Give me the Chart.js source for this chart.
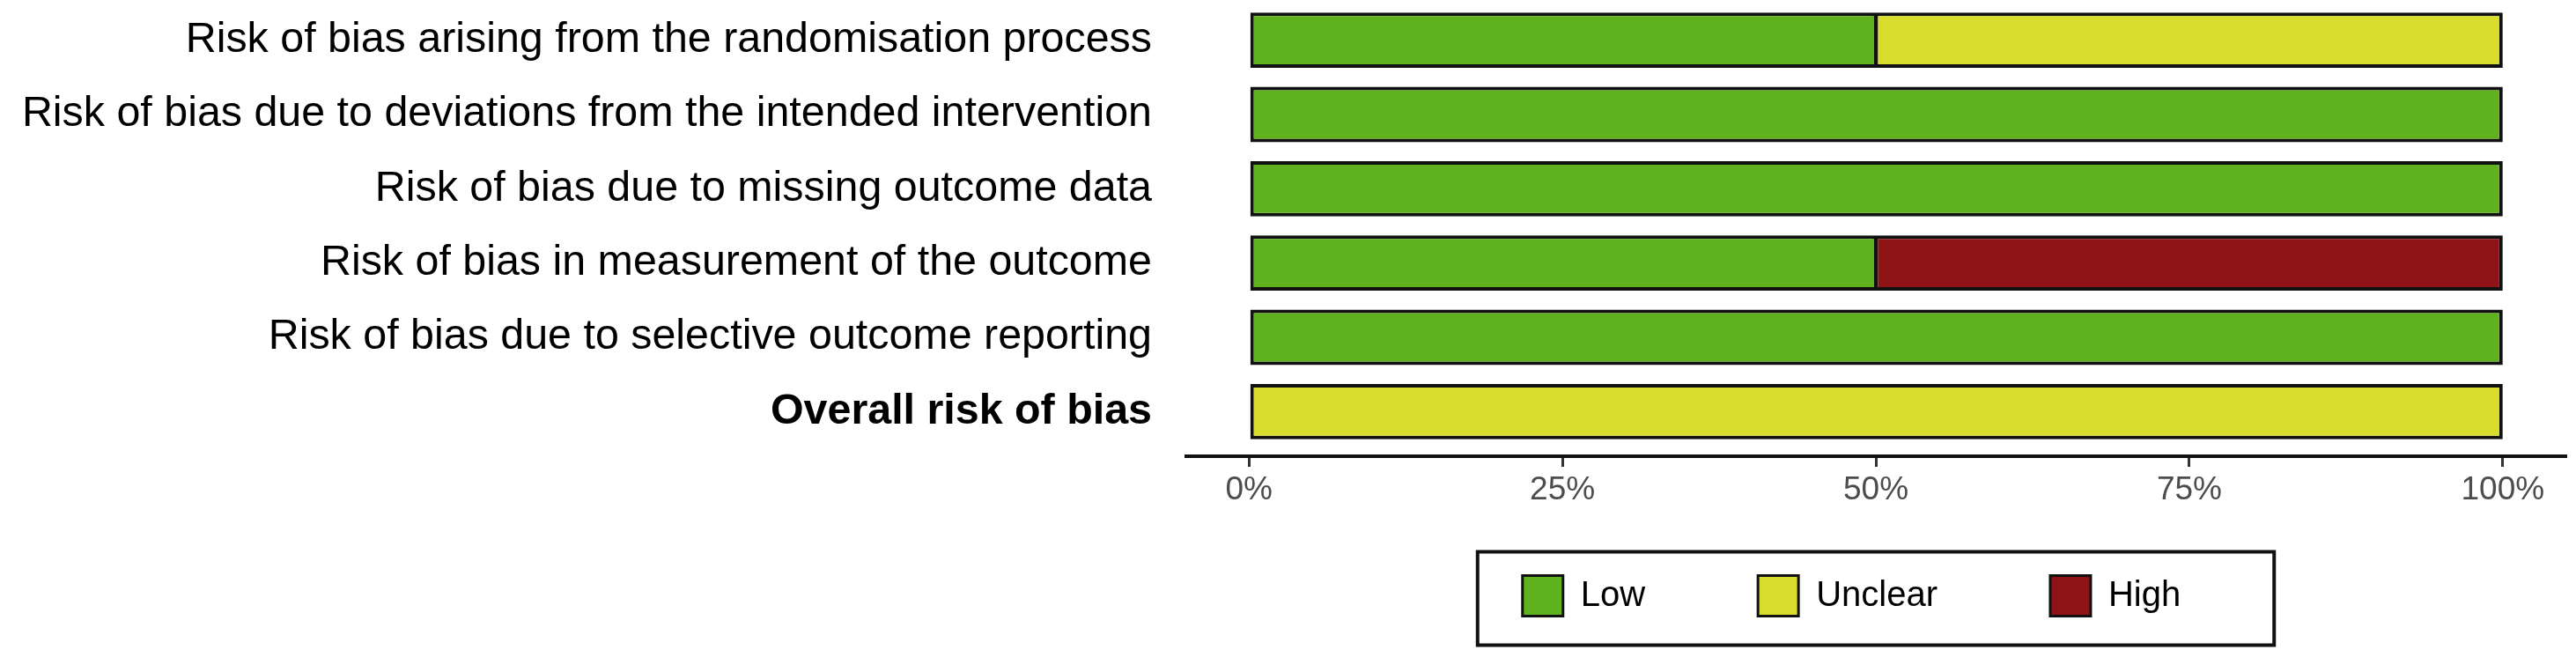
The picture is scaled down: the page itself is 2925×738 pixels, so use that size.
<!DOCTYPE html>
<html>
<head>
<meta charset="utf-8">
<script src="https://cdn.jsdelivr.net/npm/chart.js@4/dist/chart.umd.min.js"></script>
<style>
  html, body { margin: 0; padding: 0; background: #ffffff; overflow: hidden; }
  #wrap { position: absolute; left: 0; top: -5px; width: 2925px; height: 743px; }
</style>
</head>
<body>
<div id="wrap"><canvas id="c" width="2925" height="743"></canvas></div>
<script>
// ---- data ----
const categories = [
  'Risk of bias arising from the randomisation process',
  'Risk of bias due to deviations from the intended intervention',
  'Risk of bias due to missing outcome data',
  'Risk of bias in measurement of the outcome',
  'Risk of bias due to selective outcome reporting',
  'Overall risk of bias'
];
const seriesNames = ['Low', 'Unclear', 'High'];
const lowValues     = [50, 100, 100, 50, 100, 0];
const unclearValues = [50,   0,   0,  0,   0, 100];
const highValues    = [ 0,   0,   0, 50,   0, 0];
const xTickValues = [0, 25, 50, 75, 100];
const xTickLabels = ['0%', '25%', '50%', '75%', '100%'];

// ---- styling ----
const seriesColors = ['#5FB21E', '#D8DD2B', '#8F1316'];
const allSeries = [lowValues, unclearValues, highValues];
const FONT = 'Liberation Sans, Arial, Helvetica, sans-serif';

function segBorder(ctx) {
  if (ctx.type !== 'data') return 4;
  const d = ctx.datasetIndex, i = ctx.dataIndex;
  const before = allSeries.slice(0, d).some(a => a[i] > 0);
  const after = allSeries.slice(d + 1).some(a => a[i] > 0);
  return { top: 4, bottom: 4, left: before ? 2.5 : 4, right: after ? 2.5 : 4 };
}

const datasets = allSeries.map((vals, d) => ({
  label: seriesNames[d],
  data: vals.map((v, i) => ({ x: v > 0 ? v : null, y: i })),
  backgroundColor: seriesColors[d],
  borderColor: '#111111',
  borderWidth: segBorder,
  borderSkipped: false,
  categoryPercentage: 1,
  barPercentage: 0.745
}));

const legendFrame = {
  id: 'legendFrame',
  afterLayout(chart) {
    const lg = chart.legend;
    lg.left -= 27.5;
    lg.right -= 27.5;
    lg.top = chart.chartArea.bottom + 7.5;
    lg.bottom = chart.height;
    lg.height = lg.bottom - lg.top;
  },
  afterDraw(chart) {
    const hb = chart.legend.legendHitBoxes;
    if (!hb || !hb.length) return;
    const first = hb[0], last = hb[hb.length - 1];
    const left = first.left - 51;
    const right = last.left + last.width + 106;
    const top = first.top - 27;
    const bottom = first.top + first.height + 33;
    const c = chart.ctx;
    c.save();
    c.strokeStyle = '#111111';
    c.lineWidth = 4;
    c.strokeRect(left, top, right - left, bottom - top);
    c.restore();
  }
};

new Chart(document.getElementById('c'), {
  type: 'bar',
  data: { datasets },
  options: {
    indexAxis: 'y',
    responsive: false,
    animation: false,
    devicePixelRatio: 1,
    layout: { padding: { top: 0, right: 12, bottom: 23.6, left: 0 } },
    scales: {
      y: {
        type: 'linear',
        reverse: true,
        offset: false,
        min: -0.6,
        max: 5.6,
        stacked: true,
        afterBuildTicks: (s) => { s.ticks = categories.map((_, i) => ({ value: i })); },
        afterFit: (s) => { s.width = 1347; s.paddingTop = 0; s.paddingBottom = 0; },
        grid: { display: false, drawTicks: false },
        border: { display: false },
        ticks: {
          autoSkip: false,
          padding: 39,
          color: '#000000',
          font: (ctx) => ({
            family: FONT,
            size: 48.4,
            weight: (ctx.tick && ctx.tick.value === categories.length - 1) ? 'bold' : 'normal'
          }),
          callback: (v) => categories[v]
        }
      },
      x: {
        type: 'linear',
        min: -5,
        max: 105,
        stacked: true,
        offset: false,
        afterBuildTicks: (s) => { s.ticks = xTickValues.map(v => ({ value: v })); },
        afterFit: (s) => { s.paddingLeft = 0; s.paddingRight = 0; },
        grid: { display: true, drawOnChartArea: false, drawTicks: true, tickLength: 12, color: '#333333', lineWidth: 3 },
        border: { display: true, color: '#111111', width: 4 },
        ticks: {
          autoSkip: false,
          maxRotation: 0,
          padding: 5,
          color: '#4D4D4D',
          font: { family: FONT, size: 37 },
          callback: (v, idx) => xTickLabels[idx]
        }
      }
    },
    plugins: {
      tooltip: { enabled: false },
      legend: {
        position: 'bottom',
        fullSize: false,
        maxHeight: 130,
        labels: {
          boxWidth: 46,
          boxHeight: 46,
          padding: 128,
          color: '#000000',
          font: { family: FONT, size: 40 },
          generateLabels: (chart) => chart.data.datasets.map((ds, i) => ({
            text: ds.label,
            fillStyle: ds.backgroundColor,
            strokeStyle: '#111111',
            lineWidth: 3,
            hidden: false,
            datasetIndex: i
          }))
        }
      }
    }
  },
  plugins: [legendFrame]
});
</script>
</body>
</html>
